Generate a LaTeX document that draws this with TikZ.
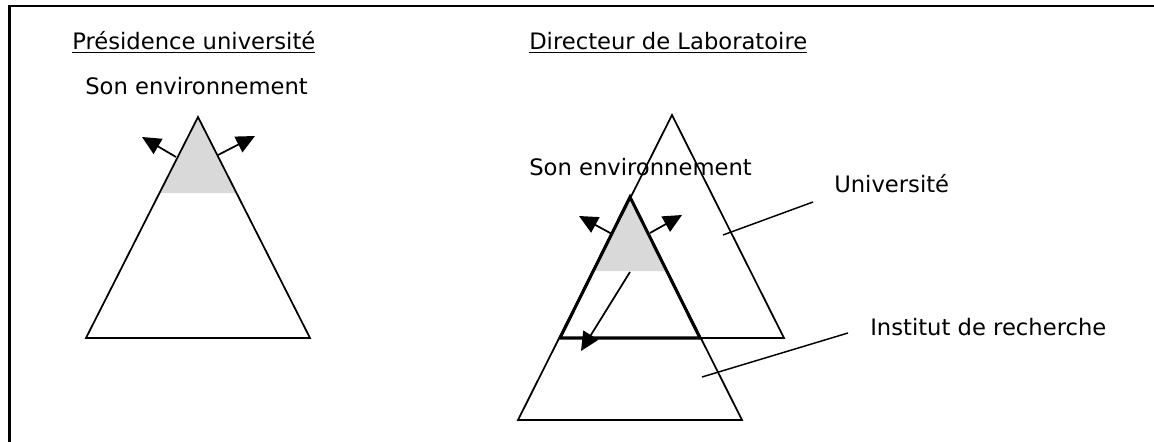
\documentclass[tikz,border=0pt]{standalone}
\usepackage{fontspec}
\setmainfont{DejaVu Sans}
\usetikzlibrary{arrows.meta,calc}
\tikzset{
  txt/.style={anchor=base west, inner sep=0pt, font=\fontsize{17}{20}\selectfont},
  tri/.style={line width=1.3pt, line join=miter},
  tribold/.style={line width=2.3pt, line join=miter},
  shade/.style={fill=black!15},
  arr/.style={line width=1.3pt, -{Triangle[length=14pt,width=13pt]}},
  leader/.style={line width=1.1pt}
}
\begin{document}
\begin{tikzpicture}[x=0.75pt,y=-0.75pt]
	\useasboundingbox (0,0) rectangle (1154,442);
	% Frame
	\draw [line width=1.8pt] (9.5,442) -- (9.5,6) -- (1154,6);
	% Titles
	\node [txt] (pres) at (72,50) {\underline{Présidence université}};
	\node [txt] (dir) at (529,50) {\underline{Directeur de Laboratoire}};
	\node [txt] (envL) at (85,95) {Son environnement};
	\node [txt] (envR) at (529,176) {Son environnement};
	\node [txt] (univ) at (834,193) {Université};
	\node [txt] (inst) at (870,335) {Institut de recherche};
	% Presidence triangle
	\coordinate (pA) at (198,117);
	\coordinate (pB) at (86,338);
	\coordinate (pC) at (310,338);
	\fill [shade] (pA) -- ($(pA)!0.344!(pB)$) -- ($(pA)!0.344!(pC)$) -- cycle;
	\draw [tri] (pA) -- (pB) -- (pC) -- cycle;
	\coordinate (pL1) at (176,157); \coordinate (pL2) at (142,137);
	\coordinate (pR1) at (218,155); \coordinate (pR2) at (255,136);
	\draw [arr] (pL1) -- (pL2);
	\draw [arr] (pR1) -- (pR2);
	% Universite triangle
	\coordinate (uA) at (672,115);
	\coordinate (uB) at (560,338);
	\coordinate (uC) at (784,338);
	% Institut triangle
	\coordinate (iA) at (630,197);
	\coordinate (iB) at (518,420);
	\coordinate (iC) at (742,420);
	% Overlap
	\coordinate (oC) at (700,338);
	\fill [shade] (iA) -- ($(iA)!0.525!(uB)$) -- ($(iA)!0.525!(oC)$) -- cycle;
	\draw [tri] (uA) -- (uB) -- (uC) -- cycle;
	\draw [tri] (iA) -- (iB) -- (iC) -- cycle;
	\draw [tribold] (iA) -- (uB) -- (oC) -- cycle;
	\coordinate (dL1) at (612,234); \coordinate (dL2) at (579,216);
	\coordinate (dR1) at (650,233); \coordinate (dR2) at (682,215);
	\coordinate (dD1) at (630,272); \coordinate (dD2) at (581,351);
	\draw [arr] (dL1) -- (dL2);
	\draw [arr] (dR1) -- (dR2);
	\draw [arr] (dD1) -- (dD2);
	% Leaders
	\coordinate (uIn) at (723,235); \coordinate (uOut) at (813,202);
	\coordinate (iIn) at (702,377); \coordinate (iOut) at (848,333);
	\draw [leader] (uIn) -- (uOut);
	\draw [leader] (iIn) -- (iOut);
\end{tikzpicture}
\end{document}
